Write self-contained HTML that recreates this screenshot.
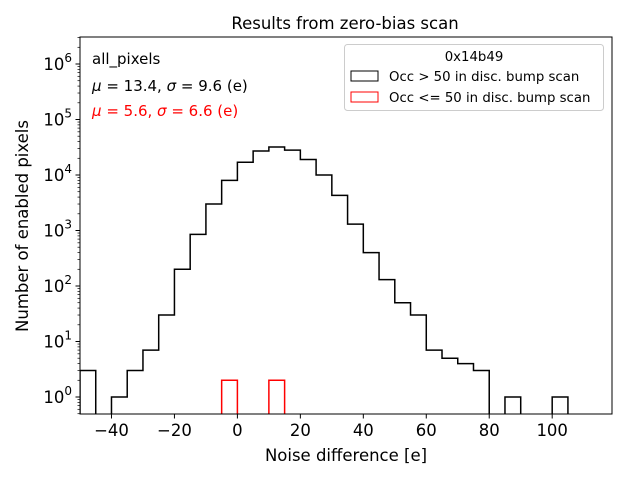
<!DOCTYPE html>
<html><head><meta charset="utf-8"><style>
body{margin:0;background:#fff;}
svg text{font-family:"DejaVu Sans","Liberation Sans",sans-serif;}
</style></head><body>
<svg id="chart" width="640" height="480" xmlns="http://www.w3.org/2000/svg">
<g id="plot"></g>
</svg>
<script>
const binEdgesStart = -50;
const binWidth = 5;
const blackCounts = [3,0,1,3,7,30,200,850,3000,8000,17000,27000,32000,28000,19000,10000,4300,1300,400,130,50,30,7,5,4,3,0,1,0,0,1];
const redBins = [-5,10];
const redCounts = [2,2];
const xTicks = [-40,-20,0,20,40,60,80,100];
const yTickExps = [0,1,2,3,4,5,6];

const L=80,R=612,T=37,B=414;
const xMin=-50,xMax=119;
const y0=397,dec=55.5;
const sx=v=>L+(v-xMin)/(xMax-xMin)*(R-L);
const sy=v=>y0-Math.log10(v)*dec;
const NS="http://www.w3.org/2000/svg";
const g=document.getElementById('plot');
function mk(tag,attrs,parent){const e=document.createElementNS(NS,tag);for(const k in attrs)e.setAttribute(k,attrs[k]);(parent||g).appendChild(e);return e;}

const defs=mk('defs',{});
const cp=mk('clipPath',{id:'clip'},defs);
mk('rect',{x:L,y:T,width:R-L,height:B-T},cp);
const data=mk('g',{'clip-path':'url(#clip)'});



function stepPath(starts,counts){
  let d='';let started=false;
  for(let i=0;i<counts.length;i++){
    const c=counts[i];const x0=sx(starts[i]),x1=sx(starts[i]+binWidth);
    if(c>0){
      const y=sy(c);
      if(!started){d+=`M${x0},${B+5} `;started=true;}
      d+=`L${x0},${y} L${x1},${y} `;
      const nxt=(i+1<counts.length && starts[i+1]===starts[i]+binWidth)?counts[i+1]:0;
      if(nxt<=0){d+=`L${x1},${B+5} `;started=false;}
    }
  }
  return d;
}
const blackStarts=blackCounts.map((_,i)=>binEdgesStart+i*binWidth);
const pb=mk('path',{d:stepPath(blackStarts,blackCounts),fill:'none',stroke:'#000','stroke-width':1.5},data);


redBins.forEach((b,i)=>{
  const pr=mk('path',{d:stepPath([b],[redCounts[i]]),fill:'none',stroke:'red','stroke-width':1.5},data);
  
  
});

const fr=mk('rect',{x:L,y:T,width:R-L,height:B-T,fill:'none',stroke:'#000','stroke-width':1});



xTicks.forEach(t=>{
  const x=sx(t);
  mk('line',{x1:x,x2:x,y1:B,y2:B+4.5,stroke:'#000'});
  const tx=mk('text',{x:x,y:B+22,'text-anchor':'middle','font-size':16.5});
  tx.textContent=(t<0?'\u2212'+(-t):t);
  
  
});
yTickExps.forEach(e=>{
  const y=y0-e*dec;
  mk('line',{x1:L,x2:L-4.5,y1:y,y2:y,stroke:'#000'});
  const tx=mk('text',{x:L-8,y:y+6,'text-anchor':'end','font-size':16.5});
  tx.innerHTML='10<tspan dy="-8" font-size="12">'+e+'</tspan>';
  
  
  for(let m=2;m<10;m++){
    const ym=y0-(e-1+Math.log10(m))*dec;
    if(ym<=B&&ym>=T) mk('line',{x1:L,x2:L-2.5,y1:ym,y2:ym,stroke:'#000','stroke-width':0.7});
  }
});
for(let m=2;m<10;m++){const ym=y0-(6+Math.log10(m))*dec;if(ym>=T)mk('line',{x1:L,x2:L-2.5,y1:ym,y2:ym,stroke:'#000','stroke-width':0.7});}
</script>
<svg width="640" height="480" style="position:absolute;left:0;top:0" xmlns="http://www.w3.org/2000/svg">
<text x="345" y="29" text-anchor="middle" font-size="16.5" font-family="DejaVu Sans, sans-serif">Results from zero-bias scan</text>
<text x="346" y="461" text-anchor="middle" font-size="16.5" font-family="DejaVu Sans, sans-serif">Noise difference [e]</text>
<text transform="translate(28,226) rotate(-90)" text-anchor="middle" font-size="16.5" font-family="DejaVu Sans, sans-serif">Number of enabled pixels</text>
<text x="92" y="64" font-size="15" font-family="DejaVu Sans, sans-serif">all_pixels</text>
<text x="92" y="91" font-size="15" font-family="DejaVu Sans, sans-serif"><tspan font-style="italic">μ</tspan> = 13.4, <tspan font-style="italic">σ</tspan> = 9.6 (e)</text>
<text x="92" y="116" font-size="15" fill="red" font-family="DejaVu Sans, sans-serif"><tspan font-style="italic">μ</tspan> = 5.6, <tspan font-style="italic">σ</tspan> = 6.6 (e)</text>
<g>
<rect x="344.5" y="44.5" width="259" height="66" rx="3" fill="#fff" stroke="#ccc"/>
<text x="474" y="61" text-anchor="middle" font-size="13.3" font-family="DejaVu Sans, sans-serif">0x14b49</text>
<rect x="351" y="71" width="27" height="10" fill="none" stroke="#000"/>
<text x="389" y="81" font-size="13.3" font-family="DejaVu Sans, sans-serif">Occ &gt; 50 in disc. bump scan</text>
<rect x="351" y="92" width="27" height="10" fill="none" stroke="red"/>
<text x="389" y="102" font-size="13.3" font-family="DejaVu Sans, sans-serif">Occ &lt;= 50 in disc. bump scan</text>
</g>
</svg>
</body></html>
